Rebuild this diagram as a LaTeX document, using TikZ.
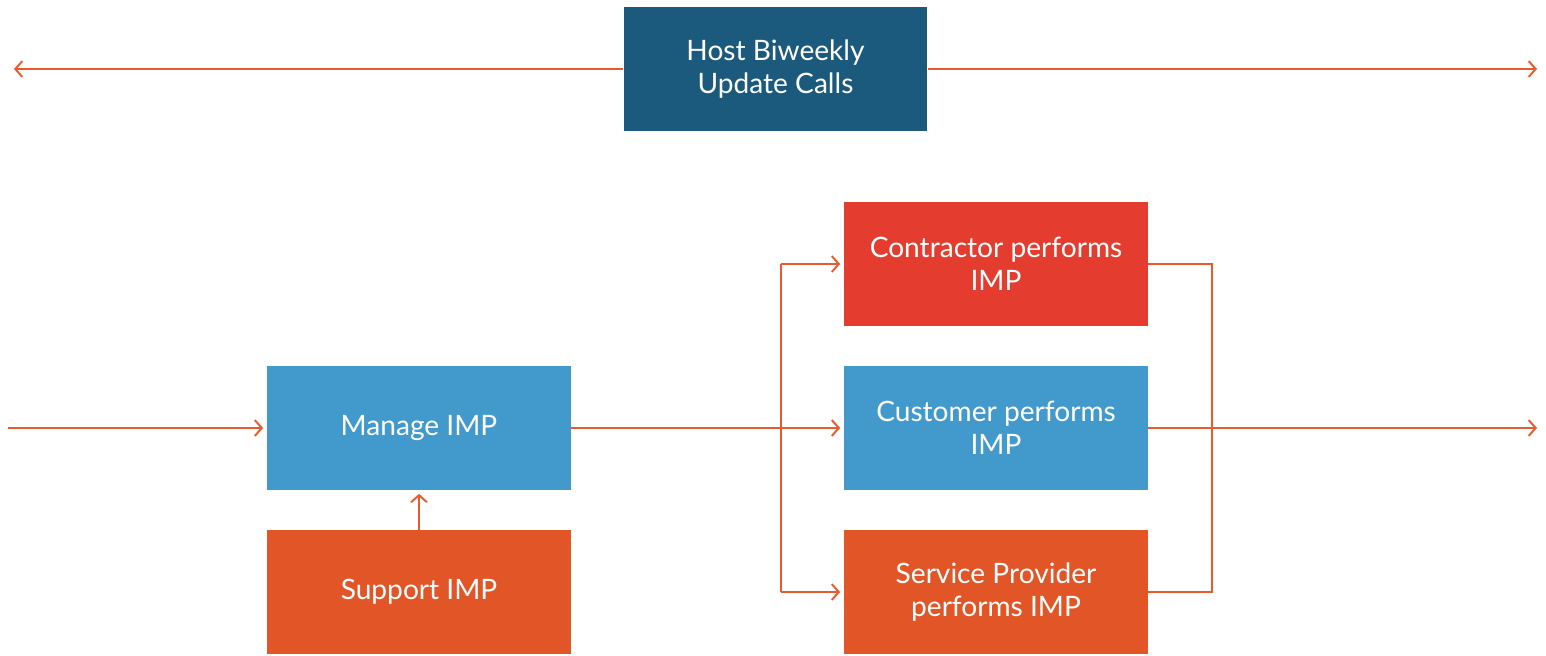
\documentclass[tikz,border=0pt]{standalone}
\usepackage{fontspec}
\setmainfont{Lato}
\usetikzlibrary{arrows.meta}
\definecolor{hostc}{HTML}{1B5A7D}
\definecolor{redc}{HTML}{E43D30}
\definecolor{bluec}{HTML}{4299CC}
\definecolor{orangec}{HTML}{E25526}
\definecolor{linec}{HTML}{EA5A2C}
\tikzset{
  box/.style={minimum width=6.08cm, minimum height=2.48cm, inner sep=0pt, text=white,
    align=center, font=\fontsize{16}{19}\selectfont},
  conn/.style={draw=linec, line width=1.1pt},
  arr/.style={conn, -{Straight Barb[length=4pt,width=9pt,line width=1.1pt]}}
}
\begin{document}
\begin{tikzpicture}[x=0.02cm,y=-0.02cm]
\useasboundingbox (0,0) rectangle (1546,656);
\node[box, fill=hostc] (host) at (775.5,69) {Host Biweekly\\Update Calls};
\node[box, fill=redc] (contr) at (996,264) {Contractor performs\\IMP};
\node[box, fill=bluec] (cust) at (996,428) {Customer performs\\IMP};
\node[box, fill=orangec] (serv) at (996,592) {Service Provider\\performs IMP};
\node[box, fill=bluec] (manage) at (419,428) {Manage IMP};
\node[box, fill=orangec] (support) at (419,592) {Support IMP};
\coordinate (tl) at (14,69);
\coordinate (tr) at (1537,69);
\coordinate (in) at (8,428);
\coordinate (out) at (1537,428);
\coordinate (sx) at (781,428);
\coordinate (jx) at (1212,428);
% top line
\draw[arr] (host.west) -- (tl);
\draw[arr] (host.east) -- (tr);
% input
\draw[arr] (in) -- ([xshift=-2pt]manage.west);
% support up
\draw[arr] (support.north) -- ([yshift=-2pt]manage.south);
% split
\draw[conn] (manage.east) -- (sx);
\draw[conn] (sx |- contr.west) -- (sx |- serv.west);
\draw[arr] (sx |- contr.west) -- ([xshift=-2pt]contr.west);
\draw[arr] (sx) -- ([xshift=-2pt]cust.west);
\draw[arr] (sx |- serv.west) -- ([xshift=-2pt]serv.west);
% join
\draw[conn] (contr.east) -- (jx |- contr.east) -- (jx |- serv.east) -- (serv.east);
\draw[arr] (cust.east) -- (out);
\end{tikzpicture}
\end{document}
